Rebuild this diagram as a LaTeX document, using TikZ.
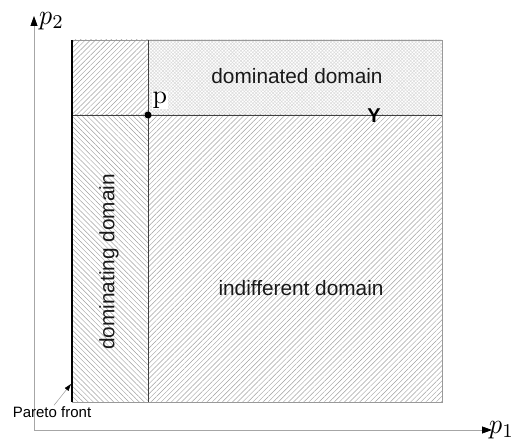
\documentclass[tikz,border=0pt]{standalone}
\usepackage{fontspec}
\setsansfont{Liberation Sans}
\usetikzlibrary{patterns,patterns.meta,arrows.meta}
\tikzset{
  axis/.style={draw=gray!70, line width=0.8pt, -{Triangle[length=10pt,width=7pt,black]}},
  hatchNE/.style={pattern={Lines[angle=45,distance=3.6pt,line width=0.45pt]}, pattern color=gray!75},
  hatchNW/.style={pattern={Lines[angle=-45,distance=3.6pt,line width=0.45pt]}, pattern color=gray!75},
  dotted area/.style={pattern={Hatch[angle=45,distance=2.4pt,line width=0.55pt]}, pattern color=gray!28},
  divider/.style={draw=black!75, line width=0.6pt},
  domlabel/.style={font=\sffamily\fontsize{20.8}{22}\selectfont, text=black!90, inner sep=1pt},
  axlabel/.style={font=\normalsize, inner sep=0pt}
}
\begin{document}
\begin{tikzpicture}[x=1pt,y=-1pt]
  \useasboundingbox (0,0) rectangle (515,441);
  % regions of the objective space
  \fill[hatchNE] (72,40) rectangle (148,115);
  \fill[dotted area] (148,40) rectangle (442,115);
  \fill[hatchNW] (72,115) rectangle (148,402);
  \fill[hatchNE] (148,115) rectangle (442,402);
  \draw[gray!80, line width=0.6pt] (72,40) rectangle (442,402);
  % dividing lines through p
  \draw[divider] (72,115) -- (442,115);
  \draw[divider] (148,40) -- (148,402);
  % Pareto front
  \coordinate (pf top) at (72,40);
  \coordinate (pf bot) at (72,402);
  \draw[black, line width=2.4pt] (pf top) -- (pf bot);
  % axes
  \coordinate (origin) at (34,430);
  \coordinate (ytip) at (34,16);
  \coordinate (xtip) at (492,430);
  \draw[axis] (origin) -- (ytip);
  \draw[axis] (origin) -- (xtip);
  \node[axlabel, anchor=west] (p2) at (39,21) {\scalebox{2.6}[2.8]{$p_2$}};
  \node[axlabel, anchor=west] (p1) at (489,430) {\scalebox{2.6}[2.8]{$p_1$}};
  % point p
  \node[circle, fill=black, inner sep=0pt, minimum size=7pt] (p) at (148,115) {};
  \node[font=\normalsize, fill=white, inner sep=0.5pt, anchor=south west] (plabel) at (152,109) {\scalebox{2.6}{p}};
  \node[font=\sffamily\bfseries, inner sep=0pt] (Y) at (374,116) {\scalebox{2.0}{Y}};
  % domain labels
  \node[domlabel] (dominated) at (297,76) {dominated domain};
  \node[domlabel, rotate=90] (dominating) at (109,262) {dominating domain};
  \node[domlabel] (indifferent) at (301,288) {indifferent domain};
  % Pareto front label
  \node[font=\sffamily\fontsize{15}{16}\selectfont, inner sep=1pt] (pflabel) at (52,412) {Pareto front};
  \coordinate (pf hit) at (71,384);
  \draw[gray!80, line width=0.5pt, -{Triangle[length=7pt,width=4.5pt,black]}] (pflabel.north) ++(2,0) -- (pf hit);
\end{tikzpicture}
\end{document}
